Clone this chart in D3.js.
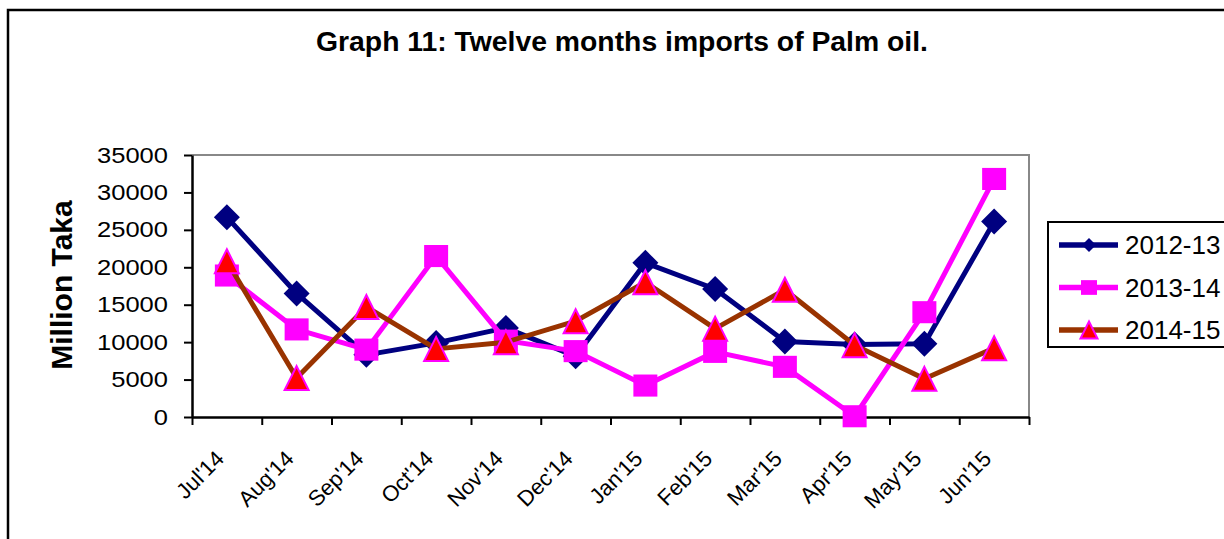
<!DOCTYPE html>
<html>
<head>
<meta charset="utf-8">
<script src="https://cdn.jsdelivr.net/npm/d3@7"></script>
<style>
  body { margin: 0; background: #fff; }
  svg { display: block; font-family: "Liberation Sans", Arial, sans-serif; }
</style>
</head>
<body>
<svg width="1224" height="539"></svg>
<script>
var svg = d3.select('svg');

// chart values
var months = ["Jul'14", "Aug'14", "Sep'14", "Oct'14", "Nov'14", "Dec'14",
  "Jan'15", "Feb'15", "Mar'15", "Apr'15", "May'15", "Jun'15"];
var fy2012_13 = [26700, 16500, 8300, 9900, 11900, 8100, 20600, 17100, 10100, 9700, 9800, 26100];
var fy2013_14 = [18900, 11700, 9000, 21500, 10200, 8800, 4200, 8700, 6700, 100, 14000, 31800];
var fy2014_15 = [20800, 5200, 14700, 9100, 10000, 12800, 18000, 11800, 17000, 9600, 5100, 9200];
var seriesNames = ["2012-13", "2013-14", "2014-15"];
var yTicks = [0, 5000, 10000, 15000, 20000, 25000, 30000, 35000];

var plot_left = 192;
var plot_right = 1029;
var plot_top = 155;
var plot_bottom = 417;

var x = d3.scaleBand().domain(months).range([plot_left, plot_right]).padding(0);
var xEdge = d3.scaleLinear().domain([0, months.length]).range([plot_left, plot_right]);
var y = d3.scaleLinear().domain([0, 35000]).range([plot_bottom, plot_top]);

function cx(d, i) {
  return x(months[i]) + x.bandwidth() / 2;
}

var series = [
  { name: seriesNames[0], values: fy2012_13, line: '#000080', fill: '#000080', stroke: 'none', shape: 'diamond' },
  { name: seriesNames[1], values: fy2013_14, line: '#ff00ff', fill: '#ff00ff', stroke: 'none', shape: 'square' },
  { name: seriesNames[2], values: fy2014_15, line: '#993300', fill: '#ff0000', stroke: '#ff00ff', shape: 'triangle' }
];

// marker shapes, centred on the point
function markerPath(shape, s) {
  if (shape == 'diamond') return "M0," + (-s) + "L" + s + ",0L0," + s + "L" + (-s) + ",0Z";
  if (shape == 'square') return "M" + (-s) + "," + (-s * 0.92) + "H" + s + "V" + (s * 0.92) + "H" + (-s) + "Z";
  return "M0," + (-s) + "L" + s + "," + s + "L" + (-s) + "," + s + "Z";
}

// outer frame
svg.append("path")
  .attr("d", "M8,539V10H1224")
  .attr("fill", "none")
  .attr("stroke", "#000")
  .attr("stroke-width", 2.5);

// title
svg.append("text")
  .attr("x", 622)
  .attr("y", 51)
  .attr("text-anchor", "middle")
  .attr("font-size", "27px")
  .attr("font-weight", "bold")
  .attr("textLength", 612)
  .attr("lengthAdjust", "spacingAndGlyphs")
  .text("Graph 11: Twelve months imports of Palm oil.");

// plot border top and right
svg.append("path")
  .attr("d", "M" + plot_left + "," + plot_top + "H" + plot_right + "V" + plot_bottom)
  .attr("fill", "none")
  .attr("stroke", "#888")
  .attr("stroke-width", 2);

// y axis
var yAxis = svg.append("g")
  .attr("transform", "translate(" + plot_left + ",0)")
  .call(d3.axisLeft(y).tickValues(yTicks).tickFormat(d3.format("d")).tickSize(8).tickPadding(16).tickSizeOuter(0));
yAxis.select(".domain").attr("stroke", "#000").attr("stroke-width", 2.5);
yAxis.selectAll(".tick line").attr("stroke", "#000").attr("stroke-width", 2);
yAxis.selectAll(".tick text")
  .attr("fill", "#000")
  .attr("font-size", "22px")
  .attr("font-family", "Liberation Sans, Arial, sans-serif")
  .attr("textLength", function(d) { return String(d).length * 14.2; })
  .attr("lengthAdjust", "spacingAndGlyphs");

// x axis, ticks at category edges
var xAxis = svg.append("g")
  .attr("transform", "translate(0," + plot_bottom + ")")
  .call(d3.axisBottom(xEdge).tickValues(d3.range(months.length + 1)).tickFormat("").tickSize(8).tickSizeOuter(0));
xAxis.select(".domain").attr("stroke", "#000").attr("stroke-width", 2.5);
xAxis.selectAll(".tick line").attr("stroke", "#000").attr("stroke-width", 2);

// rotated month labels
svg.append("g").selectAll("text")
  .data(months)
  .enter()
  .append("text")
  .attr("transform", function(d, i) {
    return "translate(" + (cx(d, i) - 1.5) + ",460) rotate(-45)";
  })
  .attr("text-anchor", "end")
  .attr("font-size", "22px")
  .text(function(d) { return d; });

// y axis title
svg.append("text")
  .attr("transform", "translate(72,285) rotate(-90)")
  .attr("text-anchor", "middle")
  .attr("font-size", "30px")
  .attr("font-weight", "bold")
  .text("Million Taka");

// series lines and markers
var line = d3.line()
  .x(function(d, i) { return cx(d, i); })
  .y(function(d) { return y(d); });

series.forEach(function(s) {
  var g = svg.append("g").attr("class", "series");
  g.append("path")
    .attr("d", line(s.values))
    .attr("fill", "none")
    .attr("stroke", s.line)
    .attr("stroke-width", 5)
    .attr("stroke-linejoin", "round");
  g.selectAll(".marker")
    .data(s.values)
    .enter()
    .append("path")
    .attr("class", "marker")
    .attr("transform", function(d, i) {
      return "translate(" + cx(d, i) + "," + y(d) + ")";
    })
    .attr("d", markerPath(s.shape, s.shape == 'diamond' ? 13 : 12))
    .attr("fill", s.fill)
    .attr("stroke", s.stroke)
    .attr("stroke-width", 2);
});

// legend
var legend = svg.append("g");
legend.append("path")
  .attr("d", "M1226,222H1048V347H1226")
  .attr("fill", "none")
  .attr("stroke", "#000")
  .attr("stroke-width", 2);

var legend_rows = legend.selectAll(".legend-row")
  .data(series)
  .enter()
  .append("g")
  .attr("class", "legend-row")
  .attr("transform", function(d, i) {
    return "translate(0," + (245 + i * 42.5) + ")";
  });

legend_rows.append("line")
  .attr("x1", 1059)
  .attr("x2", 1118)
  .attr("stroke", function(d) { return d.line; })
  .attr("stroke-width", 5.5);

legend_rows.append("path")
  .attr("transform", "translate(1089,0)")
  .attr("d", function(d) {
    return markerPath(d.shape, d.shape == 'diamond' ? 7 : (d.shape == 'square' ? 8 : 8.5));
  })
  .attr("fill", function(d) { return d.fill; })
  .attr("stroke", function(d) { return d.stroke; })
  .attr("stroke-width", 2);

legend_rows.append("text")
  .attr("x", 1125)
  .attr("y", 9)
  .attr("font-size", "26px")
  .text(function(d) { return d.name; });
</script>
</body>
</html>
